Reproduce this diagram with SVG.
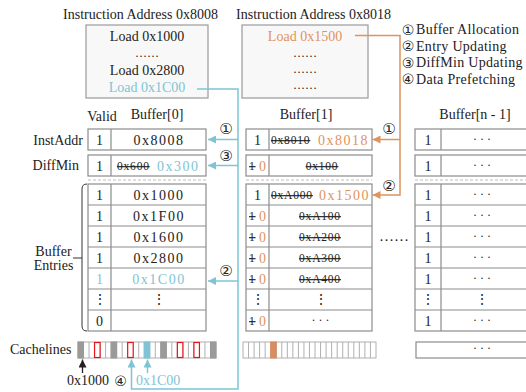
<svg xmlns="http://www.w3.org/2000/svg" width="526" height="392" viewBox="0 0 526 392">
<defs>
<style>
text{font-family:"Liberation Serif","DejaVu Serif",serif;font-size:14px;fill:#222}
.c{font-family:"DejaVu Sans","Noto Sans CJK SC",sans-serif;font-size:14px;fill:#222}
.cb{font-size:15px}
.m{text-anchor:middle}
.hx{letter-spacing:1.5px}
.st{font-size:11.5px;text-decoration:line-through;letter-spacing:0.8px}
.cy{fill:#7ec4d5}
.or{fill:#e0935e}
.box{fill:#f8f8f8;stroke:#9a9a9a;stroke-width:1.2}
.cell{fill:#fff;stroke:#8c8c8c;stroke-width:1.2}
.ln{fill:none;stroke:#8c8c8c;stroke-width:1.2}
.dash{fill:none;stroke:#bdbdbd;stroke-width:1.2;stroke-dasharray:3 2}
.strip{fill:#fff;stroke:#b0b0b0;stroke-width:1}
.g{fill:#9a9a9a;stroke:#9a9a9a;stroke-width:1}
.red{fill:#fff;stroke:#e8141c;stroke-width:1.2}
.cyc{fill:none;stroke:#7ec4d5;stroke-width:1.5}
.orc{fill:none;stroke:#e0935e;stroke-width:1.5}
.dots{font-size:12px}
.lg{letter-spacing:0.3px}
</style>
<marker id="aC" viewBox="0 0 10 10" refX="10" refY="5" markerWidth="8" markerHeight="8" markerUnits="userSpaceOnUse" orient="auto"><path d="M0,0 L10,5 L0,10 Z" fill="#7ec4d5"/></marker>
<marker id="aO" viewBox="0 0 10 10" refX="10" refY="5" markerWidth="8" markerHeight="8" markerUnits="userSpaceOnUse" orient="auto"><path d="M0,0 L10,5 L0,10 Z" fill="#e0935e"/></marker>
<marker id="aK" viewBox="0 0 10 10" refX="10" refY="5" markerWidth="8" markerHeight="8" markerUnits="userSpaceOnUse" orient="auto"><path d="M0,0 L10,5 L0,10 Z" fill="#222"/></marker>
</defs>

<!-- Instruction boxes -->
<g id="inst1">
<text class="m" x="140.5" y="19">Instruction Address 0x8008</text>
<rect class="box" x="86" y="25" width="122" height="73"/>
<text class="m" x="147" y="41">Load 0x1000</text>
<text class="m dots" x="147" y="57">……</text>
<text class="m" x="147" y="75">Load 0x2800</text>
<text class="m cy" x="147" y="92">Load 0x1C00</text>
</g>
<g id="inst2">
<text class="m" x="313.5" y="19">Instruction Address 0x8018</text>
<rect class="box" x="242" y="25" width="126" height="73"/>
<text class="m or" x="305" y="41">Load 0x1500</text>
<text class="m dots" x="305" y="57">……</text>
<text class="m dots" x="305" y="73">……</text>
<text class="m dots" x="305" y="89">……</text>
</g>

<!-- Legend -->
<g id="legend">
<text class="c m" x="408" y="34.5">①</text><text class="lg" x="416" y="34">Buffer Allocation</text>
<text class="c m" x="408" y="51">②</text><text class="lg" x="416" y="50.5">Entry Updating</text>
<text class="c m" x="408" y="67.5">③</text><text class="lg" x="416" y="67">DiffMin Updating</text>
<text class="c m" x="408" y="84">④</text><text class="lg" x="416" y="83.5">Data Prefetching</text>
</g>

<!-- Row labels -->
<g id="labels">
<text x="83" y="145" style="text-anchor:end">InstAddr</text>
<text x="79" y="170" style="text-anchor:end">DiffMin</text>
<text class="m" x="53.5" y="255.5">Buffer</text>
<text class="m" x="53.5" y="269.5">Entries</text>
<path d="M87,184 Q82,184 82,189 V326 Q82,331 87,331 M73,258 H82" fill="none" stroke="#333" stroke-width="1"/>
<text x="10" y="354">Cachelines</text>
</g>

<!-- Buffer[0] -->
<g id="buffer0">
<text class="m" x="102" y="121">Valid</text>
<text class="m" x="157" y="119">Buffer[0]</text>
<rect class="cell" x="88" y="129" width="118" height="21"/>
<rect class="cell" x="88" y="155" width="118" height="21"/>
<path class="dash" d="M88,180 H206"/>
<rect class="cell" x="88" y="184" width="118" height="147"/>
<path class="ln" d="M111,129 V150 M111,155 V176 M111,184 V331 M88,205 H206 M88,226 H206 M88,247 H206 M88,268 H206 M88,289 H206 M88,310 H206"/>
<text class="m" x="99.5" y="145">1</text><text class="m hx" x="159" y="145">0x8008</text>
<text class="m" x="99.5" y="171">1</text><text class="st" x="117" y="170">0x600</text><text class="hx cy" x="157" y="171">0x300</text>
<text class="m" x="99.5" y="200">1</text><text class="m hx" x="159" y="200">0x1000</text>
<text class="m" x="99.5" y="221">1</text><text class="m hx" x="159" y="221">0x1F00</text>
<text class="m" x="99.5" y="242">1</text><text class="m hx" x="159" y="242">0x1600</text>
<text class="m" x="99.5" y="263">1</text><text class="m hx" x="159" y="263">0x2800</text>
<text class="m cy" x="99.5" y="284">1</text><text class="m hx cy" x="159" y="284">0x1C00</text>
<text class="m" x="99.5" y="304">⋮</text><text class="m" x="158.5" y="304">⋮</text>
<text class="m" x="99.5" y="326">0</text>
<text class="c cb m" x="226" y="133.5">①</text>
<text class="c cb m" x="226" y="160.5">③</text>
<text class="c cb m" x="226" y="275.5">②</text>
</g>

<!-- Buffer[1] -->
<g id="buffer1">
<text class="m" x="306" y="119">Buffer[1]</text>
<rect class="cell" x="246" y="129" width="126" height="21"/>
<rect class="cell" x="246" y="155" width="126" height="21"/>
<path class="dash" d="M246,180 H372"/>
<rect class="cell" x="246" y="184" width="126" height="147"/>
<path class="ln" d="M269,129 V150 M269,155 V176 M269,184 V331 M246,205 H372 M246,226 H372 M246,247 H372 M246,268 H372 M246,289 H372 M246,310 H372"/>
<text class="m" x="257.5" y="145">1</text><text class="st" x="271" y="144">0x8010</text><text class="hx or" x="318" y="145">0x8018</text>
<text class="st" x="249" y="170">1</text><text class="or" x="259" y="171">0</text><text class="st m" x="322" y="170">0x100</text>
<text class="m" x="257.5" y="200">1</text><text class="st" x="271" y="199">0xA000</text><text class="hx or" x="319" y="200">0x1500</text>
<text class="st" x="249" y="220">1</text><text class="or" x="259" y="221">0</text><text class="st m" x="320" y="220">0xA100</text>
<text class="st" x="249" y="241">1</text><text class="or" x="259" y="242">0</text><text class="st m" x="320" y="241">0xA200</text>
<text class="st" x="249" y="262">1</text><text class="or" x="259" y="263">0</text><text class="st m" x="320" y="262">0xA300</text>
<text class="st" x="249" y="283">1</text><text class="or" x="259" y="284">0</text><text class="st m" x="320" y="283">0xA400</text>
<text class="m" x="257.5" y="304">⋮</text><text class="m" x="320.5" y="304">⋮</text>
<text class="st" x="249" y="325">1</text><text class="or" x="259" y="326">0</text><text class="m dots" x="320.5" y="324">· · ·</text>
<text class="c cb m" x="389" y="133.5">①</text>
<text class="c cb m" x="389" y="190.5">②</text>
</g>

<text id="between" class="m" x="394" y="241" style="font-size:15px">……</text>

<!-- Buffer[n-1] -->
<g id="bufferN">
<text class="m" x="475" y="119">Buffer[n - 1]</text>
<rect class="cell" x="415" y="129" width="115" height="21"/>
<rect class="cell" x="415" y="155" width="115" height="21"/>
<path class="dash" d="M415,180 H530"/>
<rect class="cell" x="415" y="184" width="115" height="147"/>
<path class="ln" d="M441,129 V150 M441,155 V176 M441,184 V331 M415,205 H530 M415,226 H530 M415,247 H530 M415,268 H530 M415,289 H530 M415,310 H530"/>
<text class="m" x="428" y="145">1</text><text class="m dots" x="482" y="143">· · ·</text>
<text class="m" x="428" y="171">1</text><text class="m dots" x="482" y="169">· · ·</text>
<text class="m" x="428" y="200">1</text><text class="m dots" x="482" y="198">· · ·</text>
<text class="m" x="428" y="221">1</text><text class="m dots" x="482" y="219">· · ·</text>
<text class="m" x="428" y="242">1</text><text class="m dots" x="482" y="240">· · ·</text>
<text class="m" x="428" y="263">1</text><text class="m dots" x="482" y="261">· · ·</text>
<text class="m" x="428" y="284">1</text><text class="m dots" x="482" y="282">· · ·</text>
<text class="m" x="428" y="304">⋮</text><text class="m" x="482" y="304">⋮</text>
<text class="m" x="428" y="326">1</text><text class="m dots" x="482" y="324">· · ·</text>
</g>

<!-- Cachelines -->
<g id="cachelines0">
<rect class="strip" x="78" y="342" width="138" height="16"/>
<path fill="none" stroke="#b0b0b0" stroke-width="1" d="M83.52,342v16M89.04,342v16M94.56,342v16M100.08,342v16M105.6,342v16M111.12,342v16M116.64,342v16M122.16,342v16M127.68,342v16M133.2,342v16M138.72,342v16M144.24,342v16M149.76,342v16M155.28,342v16M160.8,342v16M166.32,342v16M171.84,342v16M177.36,342v16M182.88,342v16M188.4,342v16M193.92,342v16M199.44,342v16M204.96,342v16M210.48,342v16"/>
<rect class="g" x="78" y="342" width="5.52" height="16"/>
<rect class="g" x="111.12" y="342" width="5.52" height="16"/>
<rect class="g" x="160.8" y="342" width="5.52" height="16"/>
<rect class="g" x="210.48" y="342" width="5.52" height="16"/>
<rect x="144.24" y="342" width="5.52" height="16" fill="#7ec4d5" stroke="#7ec4d5"/>
<rect class="red" x="94.56" y="342.5" width="5.52" height="15"/>
<rect class="red" x="127.68" y="342.5" width="5.52" height="15"/>
<rect class="red" x="177.36" y="342.5" width="5.52" height="15"/>
<rect class="red" x="193.92" y="342.5" width="5.52" height="15"/>
<text x="67" y="385">0x1000</text>
<text class="c m" x="120.5" y="385.5">④</text>
<text class="cy" x="136" y="385">0x1C00</text>
</g>
<g id="cachelines1">
<rect class="strip" x="243" y="342" width="133" height="16"/>
<path fill="none" stroke="#b0b0b0" stroke-width="1" d="M248.54,342v16M254.08,342v16M259.62,342v16M265.16,342v16M270.7,342v16M276.24,342v16M281.78,342v16M287.32,342v16M292.86,342v16M298.4,342v16M303.94,342v16M309.48,342v16M315.02,342v16M320.56,342v16M326.1,342v16M331.64,342v16M337.18,342v16M342.72,342v16M348.26,342v16M353.8,342v16M359.34,342v16M364.88,342v16M370.42,342v16"/>
<rect x="270.7" y="342" width="5.54" height="16" fill="#d98c5f" stroke="#d98c5f"/>
</g>
<g id="cachelinesN">
<rect class="cell" x="416" y="342" width="115" height="16"/>
<text class="m dots" x="482" y="352">· · ·</text>
</g>

<!-- Connectors -->
<g id="connectors">
<path class="cyc" d="M197,89 H238 V389 H131.5 V359.5" marker-end="url(#aC)"/>
<path class="cyc" d="M238,139.5 H208" marker-end="url(#aC)"/>
<path class="cyc" d="M238,165.5 H208" marker-end="url(#aC)"/>
<path class="cyc" d="M238,281 H208" marker-end="url(#aC)"/>
<path class="cyc" d="M147.5,373 V359.5" marker-end="url(#aC)"/>
<path fill="none" stroke="#222" stroke-width="1.3" d="M82.5,373 V359.5" marker-end="url(#aK)"/>
<path class="orc" d="M355,35.5 H400 V195 H372.5" marker-end="url(#aO)"/>
<path class="orc" d="M400,139.5 H372.5" marker-end="url(#aO)"/>
</g>
</svg>
